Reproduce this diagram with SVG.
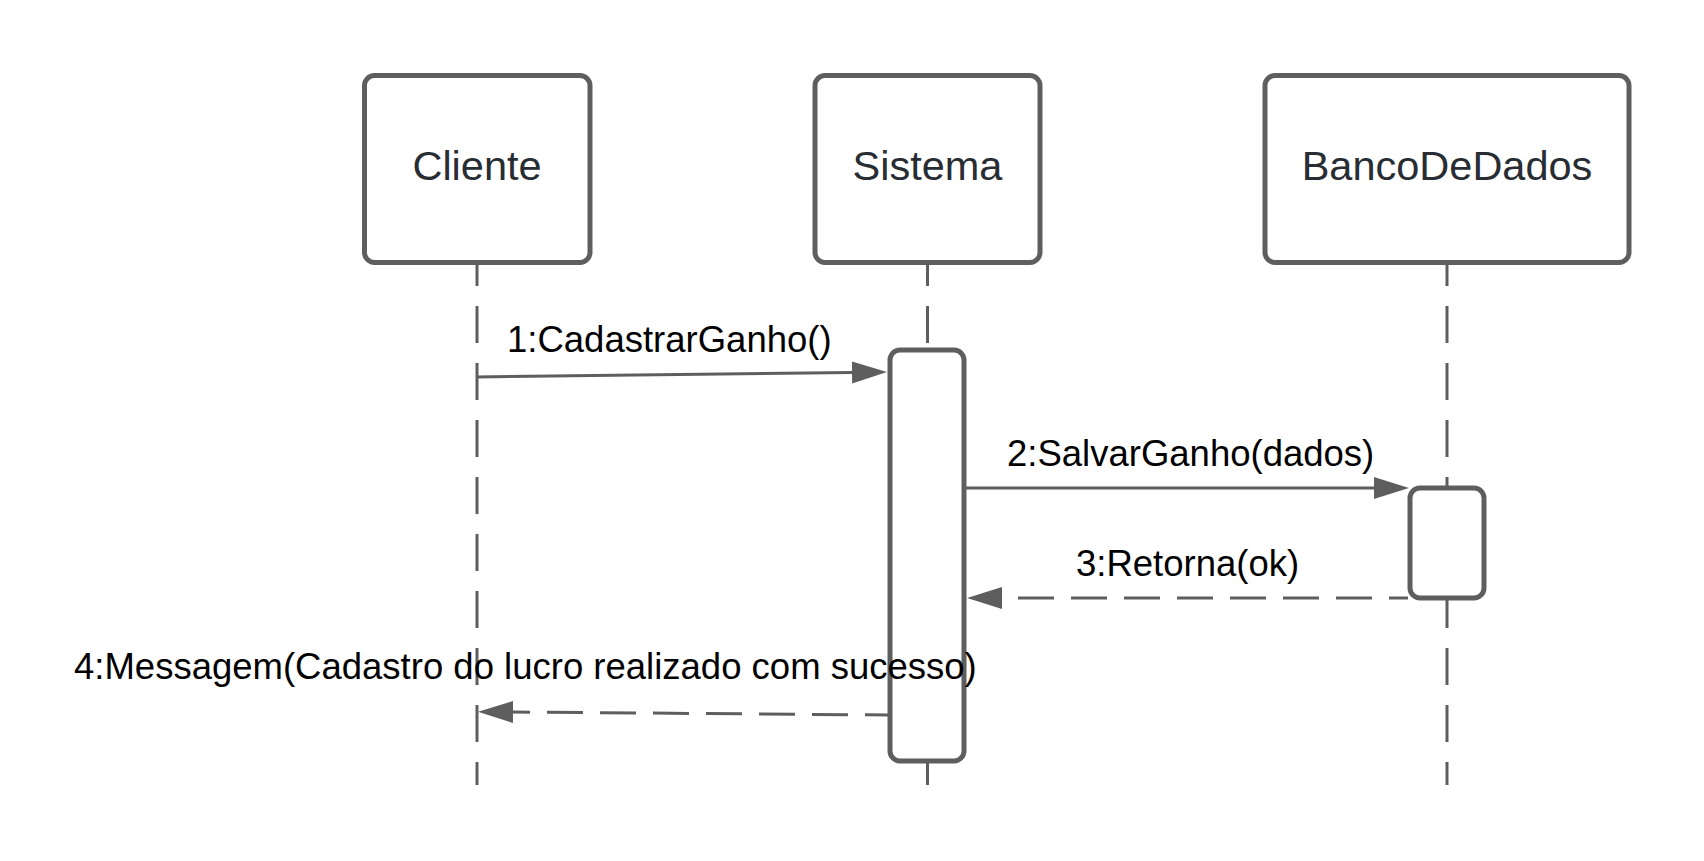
<svg xmlns="http://www.w3.org/2000/svg" width="1704" height="861" viewBox="0 0 1704 861">
<style>
.box{fill:#fff;stroke:#5e5e5e;stroke-width:5}
.life{stroke:#5e5e5e;stroke-width:3;fill:none;stroke-dasharray:37 20;stroke-dashoffset:14}
.msg{stroke:#5e5e5e;stroke-width:3;fill:none}
.ret{stroke-dasharray:36 17}
.nlabel{font-family:"Liberation Sans",Arial,sans-serif;font-size:41.5px;fill:#282c33;text-anchor:middle}
.mlabel{font-family:"Liberation Sans",Arial,sans-serif;font-size:36.5px;fill:#000}
</style>
<defs>
<marker id="arrow" markerUnits="userSpaceOnUse" markerWidth="36" markerHeight="24" refX="0" refY="11" orient="auto" viewBox="0 0 36 22">
<path d="M0,0 L35,11 L0,22 z" fill="#5e5e5e"/>
</marker>
</defs>
<g id="lifelines">
<line class="life" x1="477" y1="263" x2="477" y2="785"/>
<line class="life" x1="927.5" y1="263" x2="927.5" y2="785"/>
<line class="life" x1="1447" y1="263" x2="1447" y2="785"/>
</g>
<g id="node-cliente">
<rect class="box" x="364.5" y="75.5" width="225.5" height="187" rx="10"/>
<text class="nlabel" x="477" y="180">Cliente</text>
</g>
<g id="node-sistema">
<rect class="box" x="815" y="75.5" width="225" height="187" rx="10"/>
<text class="nlabel" x="927.5" y="180">Sistema</text>
</g>
<g id="node-banco">
<rect class="box" x="1265" y="75.5" width="364" height="187" rx="10"/>
<text class="nlabel" x="1447" y="180">BancoDeDados</text>
</g>
<g id="activation-sistema">
<rect class="box" x="890" y="350" width="74" height="411" rx="10"/>
</g>
<g id="activation-banco">
<rect class="box" x="1410" y="488" width="74" height="110" rx="10"/>
</g>
<g id="connectors">
<line class="msg" x1="477" y1="377" x2="852" y2="372.4" marker-end="url(#arrow)"/>
<line class="msg" x1="966" y1="488" x2="1374" y2="488" marker-end="url(#arrow)"/>
<line class="msg ret" style="stroke-dashoffset:17" x1="1408" y1="598" x2="1002" y2="598" marker-end="url(#arrow)"/>
<line class="msg ret" style="stroke-dashoffset:12" x1="889" y1="715" x2="513" y2="712" marker-end="url(#arrow)"/>
</g>
<g id="labels">
<text class="mlabel" x="507" y="352">1:CadastrarGanho()</text>
<text class="mlabel" x="1007" y="466">2:SalvarGanho(dados)</text>
<text class="mlabel" x="1076" y="576">3:Retorna(ok)</text>
<text class="mlabel" x="74" y="679">4:Messagem(Cadastro do lucro realizado com sucesso)</text>
</g>
</svg>
